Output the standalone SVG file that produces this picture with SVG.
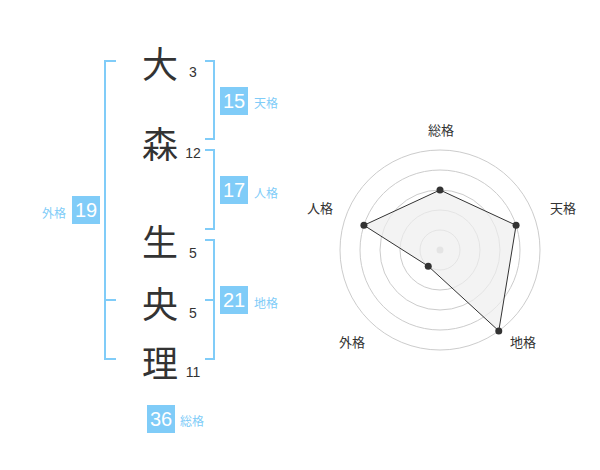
<svg xmlns="http://www.w3.org/2000/svg" width="600" height="470" viewBox="0 0 600 470">
<style>
.k{font-family:"Noto Sans CJK JP","Noto Sans CJK SC",sans-serif;font-size:36px;fill:#333;text-anchor:middle}
.n{font-family:"Liberation Sans",Arial,sans-serif;font-size:14px;fill:#333;text-anchor:middle}
.br{fill:none;stroke:#80ccf8;stroke-width:2}
.bx{fill:#80ccf8}
.bt{font-family:"Liberation Sans",Arial,sans-serif;font-size:20px;fill:#fff;text-anchor:middle}
.bl{font-family:"Noto Sans CJK JP","Noto Sans CJK SC",sans-serif;font-size:12px;fill:#80ccf8}
.ring{fill:none;stroke:#ccc;stroke-width:1}
.rl{font-family:"Noto Sans CJK JP","Noto Sans CJK SC",sans-serif;font-size:13px;fill:#333;text-anchor:middle}
.pt{fill:#333}
</style>
<g id="name">
<g id="c1"><text class="k" x="160" y="78">大</text><text class="n" x="193" y="77">3</text></g>
<g id="c2"><text class="k" x="160" y="158">森</text><text class="n" x="193" y="158">12</text></g>
<g id="c3"><text class="k" x="160" y="256">生</text><text class="n" x="193" y="258">5</text></g>
<g id="c4"><text class="k" x="160" y="318">央</text><text class="n" x="193" y="318">5</text></g>
<g id="c5"><text class="k" x="160" y="377">理</text><text class="n" x="193" y="377">11</text></g>
</g>
<g id="brackets">
<path class="br" d="M116,61 H105 V359 H116 M105,300 H116"/>
<path class="br" d="M205,61 H214 V139 H205"/>
<path class="br" d="M205,150 H214 V229 H205"/>
<path class="br" d="M205,240 H214 V359 H205 M205,300 H214"/>
</g>
<g id="tenkaku"><rect class="bx" x="220" y="87" width="28" height="28"/><text class="bt" x="234" y="108">15</text><text class="bl" x="254" y="108">天格</text></g>
<g id="jinkaku"><rect class="bx" x="220" y="176" width="28" height="28"/><text class="bt" x="234" y="197">17</text><text class="bl" x="254" y="198">人格</text></g>
<g id="gaikaku"><rect class="bx" x="72" y="196" width="28" height="28"/><text class="bt" x="86" y="217">19</text><text class="bl" x="42" y="218">外格</text></g>
<g id="chikaku"><rect class="bx" x="220" y="286" width="28" height="28"/><text class="bt" x="234" y="307">21</text><text class="bl" x="254" y="308">地格</text></g>
<g id="soukaku"><rect class="bx" x="147" y="405" width="28" height="28"/><text class="bt" x="161" y="426">36</text><text class="bl" x="180" y="426">総格</text></g>
<g id="radar">
<circle class="ring" cx="440" cy="250" r="20"/>
<circle class="ring" cx="440" cy="250" r="40"/>
<circle class="ring" cx="440" cy="250" r="60"/>
<circle class="ring" cx="440" cy="250" r="80"/>
<circle class="ring" cx="440" cy="250" r="100"/>
<circle cx="440" cy="250" r="3.5" fill="#ccc"/>
<polygon points="440,190 516.08,225.28 498.78,330.9 428.24,266.18 363.92,225.28" fill="#eee" fill-opacity="0.7" stroke="#333" stroke-width="1"/>
<circle class="pt" cx="440" cy="190" r="3.5"/>
<circle class="pt" cx="516.08" cy="225.28" r="3.5"/>
<circle class="pt" cx="498.78" cy="330.9" r="3.5"/>
<circle class="pt" cx="428.24" cy="266.18" r="3.5"/>
<circle class="pt" cx="363.92" cy="225.28" r="3.5"/>
<text class="rl" x="441" y="135">総格</text>
<text class="rl" x="563" y="213">天格</text>
<text class="rl" x="320" y="213">人格</text>
<text class="rl" x="523" y="347">地格</text>
<text class="rl" x="352" y="347">外格</text>
</g>
</svg>
